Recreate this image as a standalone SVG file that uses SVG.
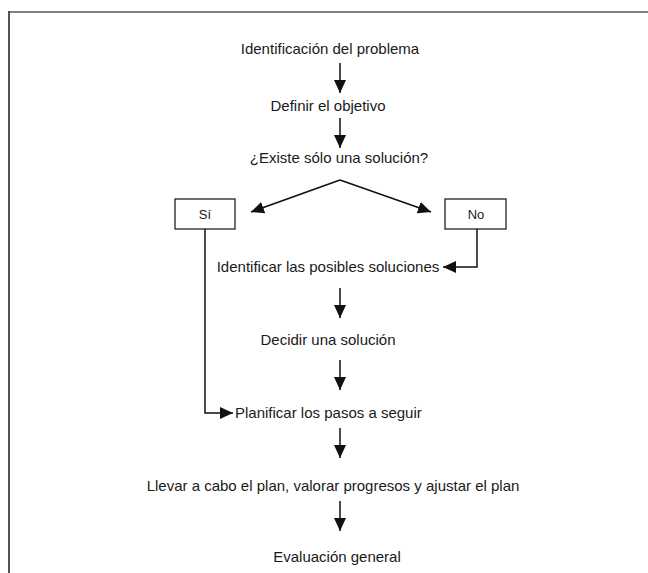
<svg xmlns="http://www.w3.org/2000/svg" width="648" height="573" viewBox="0 0 648 573">
<defs>
<marker id="ah" markerUnits="userSpaceOnUse" markerWidth="13" markerHeight="12" refX="13" refY="6" orient="auto">
<path d="M0,0 L13,6 L0,12 z" fill="#111"/>
</marker>
<style>
.t{font-family:"Liberation Sans",Arial,sans-serif;font-size:15px;fill:#1a1a1a;text-anchor:middle}
.s{font-family:"Liberation Sans",Arial,sans-serif;font-size:13px;fill:#1a1a1a;text-anchor:middle}
.c{fill:none;stroke:#111;stroke-width:1.5;marker-end:url(#ah)}
.b{fill:#fff;stroke:#222;stroke-width:1.3}
</style>
</defs>
<rect width="648" height="573" fill="#fff"/>
<g id="frame">
<line x1="9" y1="12" x2="648" y2="12" stroke="#808080" stroke-width="2"/>
<line x1="9" y1="11" x2="9" y2="573" stroke="#2a2a2a" stroke-width="1.6"/>
</g>
<g id="n1"><text class="t" x="330" y="54">Identificación del problema</text></g>
<g id="n2"><text class="t" x="328" y="111">Definir el objetivo</text></g>
<g id="n3"><text class="t" x="339" y="163">¿Existe sólo una solución?</text></g>
<g id="si"><rect class="b" x="175" y="199" width="60" height="30"/><text class="s" x="205" y="219">Sí</text></g>
<g id="no"><rect class="b" x="445" y="199" width="61" height="30"/><text class="s" x="476" y="219">No</text></g>
<g id="n4"><text class="t" x="328" y="272">Identificar las posibles soluciones</text></g>
<g id="n5"><text class="t" x="328" y="345">Decidir una solución</text></g>
<g id="n6"><text class="t" x="235" y="418" style="text-anchor:start">Planificar los pasos a seguir</text></g>
<g id="n7"><text class="t" x="333" y="491">Llevar a cabo el plan, valorar progresos y ajustar el plan</text></g>
<g id="n8"><text class="t" x="337" y="562">Evaluación general</text></g>
<g id="connectors">
<path class="c" d="M340,63 V93"/>
<path class="c" d="M340,118 V148"/>
<path class="c" d="M340,180 L251,212"/>
<path class="c" d="M340,180 L431,212"/>
<path class="c" d="M477,229 V267 H443"/>
<path class="c" d="M205,229 V413 H233"/>
<path class="c" d="M340,288 V318"/>
<path class="c" d="M340,360 V390"/>
<path class="c" d="M340,428 V458"/>
<path class="c" d="M340,501 V531"/>
</g>
</svg>
